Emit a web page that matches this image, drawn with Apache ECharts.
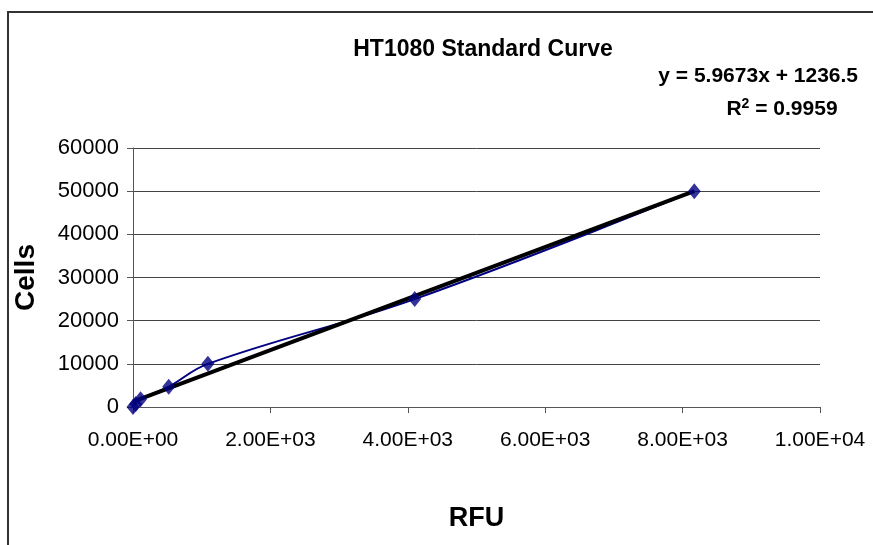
<!DOCTYPE html>
<html>
<head>
<meta charset="utf-8">
<script src="https://cdn.jsdelivr.net/npm/echarts@6/dist/echarts.min.js"></script>
<style>
  html, body { margin: 0; padding: 0; background: #fff; }
  #chart { width: 873px; height: 545px; }
</style>
</head>
<body>
<div id="chart"></div>
<script>
'use strict';
// measured points (RFU, cells)
var rfu = [0, 40, 110, 520, 1090, 4100, 8170];
var cells = [0, 700, 1800, 4700, 10000, 25000, 50000];
// linear trend line end points: y = 5.9673x + 1236.5
var trendX = [0, 8170];
var trendY = [1236.5, 49988];
var xTicks = ['0.00E+00', '2.00E+03', '4.00E+03', '6.00E+03', '8.00E+03', '1.00E+04'];

var font = '"Liberation Sans", Arial, sans-serif';

function pairs(xs, ys) {
	return xs.map(function(x, i) { return [x, ys[i]]; });
}

var option = {
	animation: false,
	backgroundColor: '#fff',
	title: {
		text: 'HT1080 Standard Curve',
		left: 478,
		top: 33,
		textAlign: 'center',
		textStyle: { fontFamily: font, fontSize: 23, fontWeight: 'bold', color: '#000' }
	},
	graphic: [
		{
			type: 'rect',
			shape: { x: 8, y: 12, width: 900, height: 600 },
			style: { fill: 'none', stroke: '#333', lineWidth: 2 },
			silent: true
		},
		{
			type: 'text',
			x: 858, y: 76,
			style: {
				text: 'y = 5.9673x + 1236.5', align: 'right', verticalAlign: 'middle',
				font: 'bold 21px ' + font, fill: '#000'
			}
		},
		{
			type: 'text',
			x: 782, y: 109,
			style: {
				text: '{r|R}{s|2}{r| = 0.9959}', align: 'center', verticalAlign: 'middle',
				rich: {
					r: { fontFamily: font, fontSize: 21, fontWeight: 'bold', fill: '#000' },
					s: { fontFamily: font, fontSize: 14, fontWeight: 'bold', fill: '#000', verticalAlign: 'top', padding: [0, 0, 10, 0] }
				}
			}
		}
	],
	grid: { left: 133, right: 53, top: 148, bottom: 138, containLabel: false },
	xAxis: {
		type: 'value',
		min: 0, max: 10000, interval: 2000,
		name: 'RFU',
		nameLocation: 'middle',
		nameGap: 98,
		nameTextStyle: { fontFamily: font, fontSize: 27, fontWeight: 'bold', color: '#000' },
		axisLine: { lineStyle: { color: '#555', width: 1 } },
		axisTick: { length: 6, lineStyle: { color: '#555' } },
		axisLabel: {
			margin: 23,
			fontFamily: font, fontSize: 21, color: '#000',
			formatter: function(v) { return xTicks[Math.round(v / 2000)]; }
		},
		splitLine: { show: false }
	},
	yAxis: {
		type: 'value',
		min: 0, max: 60000, interval: 10000,
		name: 'Cells',
		nameLocation: 'middle',
		nameGap: 93,
		nameRotate: 90,
		nameTextStyle: { fontFamily: font, fontSize: 28, fontWeight: 'bold', color: '#000' },
		axisLine: { show: true, lineStyle: { color: '#555', width: 1 } },
		axisTick: { show: true, length: 6, lineStyle: { color: '#555' } },
		axisLabel: {
			margin: 14, fontFamily: font, fontSize: 22, color: '#000',
			formatter: function(v) { return String(v); }
		},
		splitLine: { lineStyle: { color: '#444', width: 1 } }
	},
	series: [
		{
			type: 'line',
			data: pairs(rfu, cells),
			smooth: 0.4,
			symbol: 'none',
			lineStyle: { color: '#000080', width: 2 },
			z: 2
		},
		{
			type: 'line',
			data: pairs(trendX, trendY),
			symbol: 'none',
			lineStyle: { color: '#000', width: 4 },
			z: 3
		},
		{
			type: 'scatter',
			data: pairs(rfu, cells),
			symbol: 'diamond',
			symbolSize: [13, 16],
			itemStyle: { color: '#000080' },
			z: 4
		}
	]
};

var myChart = echarts.init(document.getElementById('chart'));
myChart.setOption(option);
</script>
</body>
</html>
